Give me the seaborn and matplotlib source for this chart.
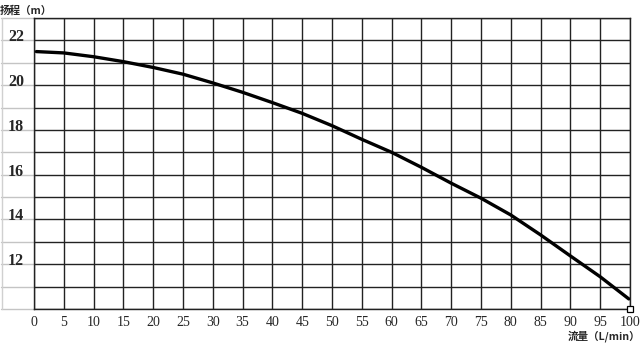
import numpy as np
import pandas as pd
import matplotlib
matplotlib.use("Agg")
import matplotlib.pyplot as plt
import seaborn as sns
from matplotlib.transforms import ScaledTranslation

# ---- data ----
flow = [0.4, 5, 10, 15, 20, 25, 30, 35, 40, 45, 50, 55, 60, 65, 70, 75, 80, 85, 90, 95, 99.8]
head = [21.5, 21.44, 21.27, 21.05, 20.79, 20.49, 20.1, 19.68, 19.22, 18.74, 18.19, 17.58,
        17.0, 16.33, 15.62, 14.95, 14.2, 13.31, 12.37, 11.44, 10.45]
x_ticks = list(range(0, 101, 5))
y_grid = list(range(10, 24))
y_labels = ["" if (v % 2 or v < 12 or v > 22) else str(v) for v in y_grid]
x_title = "流量（L/min）"
y_title = "扬程（m）"
end_marker_x = [100]
end_marker_y = [10]

sns.set_theme(style="white")
plt.rcParams['font.family'] = ['Noto Sans CJK SC', 'DejaVu Sans']

fig = plt.figure(figsize=(6.4, 3.46), dpi=100)
ax = fig.add_axes([34/640, 1-309/346, (630-34)/640, (309-18)/346])

df = pd.DataFrame({"flow": flow, "head": head})
sns.lineplot(data=df, x="flow", y="head", ax=ax, color="black", linewidth=2.4, zorder=5)

ax.set_xlim(0, 100)
ax.set_ylim(10, 23)
ax.set_xticks(x_ticks)
ax.set_xticklabels([str(v) for v in x_ticks], family="Liberation Serif", fontsize=10)
ax.set_yticks(y_grid)
ax.set_yticklabels(y_labels, family="Liberation Serif", fontsize=11.5, fontweight="bold")
ax.tick_params(axis="both", length=0)
ax.tick_params(axis="x", pad=5)
ax.tick_params(axis="y", pad=7)
ax.set_xlabel("")
ax.set_ylabel("")

for lab in ax.get_yticklabels():
    lab.set_transform(lab.get_transform() + ScaledTranslation(0, 5/100, fig.dpi_scale_trans))

ax.grid(True, color="#222222", linewidth=1.0)
for s in ax.spines.values():
    s.set_color("#222222")
    s.set_linewidth(1.0)

# gray extensions of horizontal lines into the label area
ytr = ax.get_yaxis_transform()
for v in y_grid:
    ax.plot([-0.055, 0], [v, v], transform=ytr, color="#c4c4c4", linewidth=1.0, clip_on=False, zorder=0)
ax.plot([-0.054, -0.054], [10, 23], transform=ytr, color="#d0d0d0", linewidth=1.0, clip_on=False, zorder=0)

ax.plot(end_marker_x, end_marker_y, marker="s", markersize=5, markerfacecolor="white",
        markeredgecolor="black", markeredgewidth=0.9, linestyle="none", clip_on=False, zorder=6)

fig.text(0.0, 1-10.5/346, y_title, ha="left", va="center", fontsize=7.6, fontweight="bold")
fig.text(1.0, 1-336/346, x_title, ha="right", va="center", fontsize=7.6, fontweight="bold")

fig.savefig("out.png", dpi=100, facecolor="white")
